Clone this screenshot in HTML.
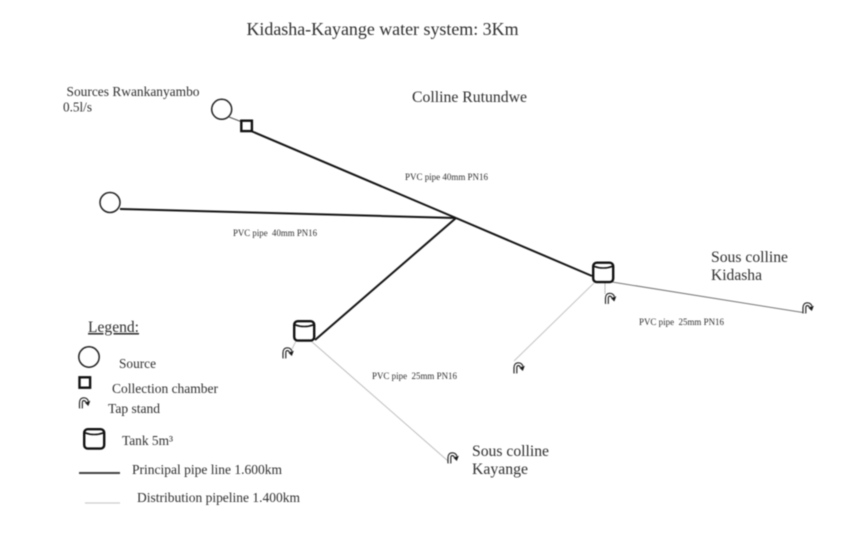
<!DOCTYPE html>
<html>
<head>
<meta charset="utf-8">
<style>
html,body{margin:0;padding:0;background:#fff;width:843px;height:560px;overflow:hidden}
svg{display:block;filter:blur(0.45px)}
text{font-family:"Liberation Serif",serif;fill:#2e2e2e}
</style>
</head>
<body>
<svg width="843" height="560" viewBox="0 0 843 560" xmlns="http://www.w3.org/2000/svg">
<defs>
<g id="tap">
<path d="M2.4 11.4V5.8Q2.4 2.2 5.4 2.2Q7.6 2.2 8.6 4.6" fill="none" stroke="#222" stroke-width="4"/>
<path d="M2.4 11.4V5.8Q2.4 2.2 5.4 2.2Q7.6 2.2 8.6 4.6" fill="none" stroke="#fff" stroke-width="1.7"/>
<path d="M6.4 5.6L11.8 3.8L9.8 9Z" fill="#1a1a1a"/>
</g>
<g id="tank">
<rect x="1.2" y="1.2" width="20" height="19.4" rx="3.6" fill="#fff" stroke="#111" stroke-width="2.4"/>
<path d="M1.5 4.6Q11.2 8.4 21 4.6" fill="none" stroke="#111" stroke-width="1.6"/>
</g>
</defs>

<!-- Distribution pipes -->
<g fill="none" stroke-width="1">
<line x1="612" y1="282" x2="806" y2="313" stroke="#777"/>
<line x1="594" y1="283" x2="514" y2="361" stroke="#c4c4c4"/>
<line x1="605" y1="283" x2="605" y2="294" stroke="#bbb"/>
<line x1="311" y1="341" x2="448" y2="461" stroke="#bdbdbd"/>
<line x1="296" y1="341" x2="292" y2="349" stroke="#c4c4c4"/>
<line x1="229" y1="117" x2="242" y2="122" stroke="#555"/>
</g>

<!-- Principal pipes -->
<g fill="none" stroke="#151515" stroke-width="2">
<line x1="251" y1="131" x2="456" y2="218"/>
<line x1="456" y1="218" x2="592" y2="276"/>
<line x1="120" y1="209" x2="456" y2="218"/>
<line x1="456" y1="218" x2="315" y2="340"/>
</g>

<!-- Sources and chamber -->
<circle cx="221.7" cy="109.3" r="10" fill="#fff" stroke="#222" stroke-width="1.5"/>
<circle cx="110" cy="202.5" r="10" fill="#fff" stroke="#222" stroke-width="1.5"/>
<rect x="241.3" y="120.7" width="10.6" height="10.4" fill="#fff" stroke="#111" stroke-width="2.4"/>

<!-- Tanks -->
<use href="#tank" x="592" y="261.5"/>
<use href="#tank" x="293" y="320"/>

<!-- Taps -->
<use href="#tap" x="604.5" y="292.5"/>
<use href="#tap" x="282" y="347"/>
<use href="#tap" x="513" y="362"/>
<use href="#tap" x="447" y="452"/>
<use href="#tap" x="802" y="302"/>

<!-- Legend symbols -->
<circle cx="89" cy="357" r="10.2" fill="#fff" stroke="#222" stroke-width="1.5"/>
<rect x="79.5" y="377.3" width="10.6" height="10.4" fill="#fff" stroke="#111" stroke-width="2.4"/>
<use href="#tap" x="78.5" y="397"/>
<use href="#tank" x="83" y="428"/>
<line x1="79" y1="473" x2="120" y2="473" stroke="#444" stroke-width="2"/>
<line x1="85" y1="503" x2="120" y2="503" stroke="#ccc" stroke-width="1.2"/>

<!-- Labels -->
<text x="246.5" y="35" font-size="17.9" textLength="272" lengthAdjust="spacingAndGlyphs">Kidasha-Kayange water system: 3Km</text>
<text x="66.5" y="96" font-size="13.7" textLength="133" lengthAdjust="spacingAndGlyphs">Sources Rwankanyambo</text>
<text x="63" y="111.5" font-size="13.3" textLength="29" lengthAdjust="spacingAndGlyphs">0.5l/s</text>
<text x="412" y="102" font-size="15.7" textLength="115" lengthAdjust="spacingAndGlyphs">Colline Rutundwe</text>
<text x="405" y="180" font-size="9" textLength="83" lengthAdjust="spacingAndGlyphs">PVC pipe 40mm PN16</text>
<text x="233" y="236" font-size="9" textLength="84" lengthAdjust="spacingAndGlyphs" xml:space="preserve">PVC pipe  40mm PN16</text>
<text x="639" y="325" font-size="9" textLength="85" lengthAdjust="spacingAndGlyphs" xml:space="preserve">PVC pipe  25mm PN16</text>
<text x="372" y="379" font-size="9" textLength="85" lengthAdjust="spacingAndGlyphs" xml:space="preserve">PVC pipe  25mm PN16</text>
<text x="711" y="262" font-size="15.6" textLength="77" lengthAdjust="spacingAndGlyphs">Sous colline</text>
<text x="711" y="280" font-size="15.6" textLength="51" lengthAdjust="spacingAndGlyphs">Kidasha</text>
<text x="472" y="456" font-size="15.6" textLength="77" lengthAdjust="spacingAndGlyphs">Sous colline</text>
<text x="472" y="474" font-size="15.6" textLength="56" lengthAdjust="spacingAndGlyphs">Kayange</text>
<text x="88" y="332" font-size="15.6" textLength="51" lengthAdjust="spacingAndGlyphs" text-decoration="underline">Legend:</text>
<text x="119" y="368" font-size="13.3" textLength="37" lengthAdjust="spacingAndGlyphs">Source</text>
<text x="112" y="393" font-size="13.5" textLength="106" lengthAdjust="spacingAndGlyphs">Collection chamber</text>
<text x="108" y="413" font-size="13.3" textLength="52" lengthAdjust="spacingAndGlyphs">Tap stand</text>
<text x="122" y="445" font-size="13.2" textLength="51" lengthAdjust="spacingAndGlyphs">Tank 5m³</text>
<text x="132" y="474" font-size="13.3" textLength="150" lengthAdjust="spacingAndGlyphs">Principal pipe line 1.600km</text>
<text x="137" y="502" font-size="13.3" textLength="163" lengthAdjust="spacingAndGlyphs">Distribution pipeline 1.400km</text>
</svg>
</body>
</html>
